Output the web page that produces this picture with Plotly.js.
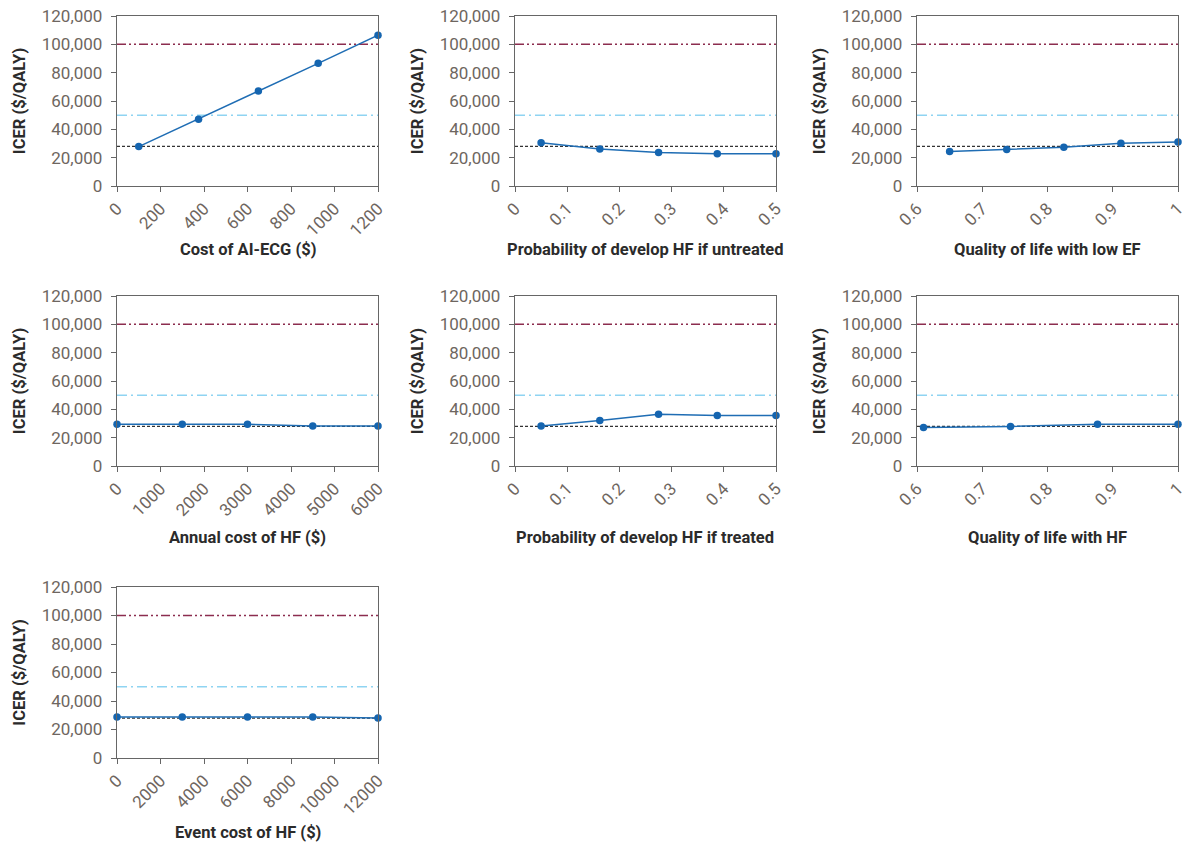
<!DOCTYPE html>
<html><head><meta charset="utf-8">
<script src="https://cdn.plot.ly/plotly-3.0.1.min.js"></script>
<style>body{margin:0;background:#fff}#c{width:1186px;height:847px}</style>
</head><body><div id="c"></div>
<script>
// Data
const costAIECG_x = [100, 375, 650, 925, 1200];
const costAIECG_y = [27800, 47200, 67100, 86600, 106400];
const probUntreated_x = [0.05, 0.1625, 0.275, 0.3875, 0.5];
const probUntreated_y = [30600, 26200, 23600, 22700, 22700];
const qolLowEF_x = [0.65, 0.7375, 0.825, 0.9125, 1.0];
const qolLowEF_y = [24300, 25700, 27300, 30100, 31100];
const annualCostHF_x = [0, 1500, 3000, 4500, 6000];
const annualCostHF_y = [29400, 29400, 29400, 28300, 28300];
const probTreated_x = [0.05, 0.1625, 0.275, 0.3875, 0.5];
const probTreated_y = [28300, 32100, 36500, 35600, 35600];
const qolHF_x = [0.61, 0.7433, 0.8767, 1.0];
const qolHF_y = [27200, 27900, 29500, 29500];
const eventCostHF_x = [0, 3000, 6000, 9000, 12000];
const eventCostHF_y = [28700, 28700, 28700, 28700, 28000];

const xTitles = ["Cost of AI-ECG ($)", "Probability of develop HF if untreated", "Quality of life with low EF",
  "Annual cost of HF ($)", "Probability of develop HF if treated", "Quality of life with HF", "Event cost of HF ($)"];
const yTitle = "ICER ($/QALY)";
const thresholdHigh = 100000;
const thresholdMid = 50000;
const baseCase = 28000;
const yTicks = [0, 20000, 40000, 60000, 80000, 100000, 120000];
const yTickText = ["0", "20,000", "40,000", "60,000", "80,000", "100,000", "120,000"];

const xTicksCost = [0, 200, 400, 600, 800, 1000, 1200];
const xTicksProb = [0, 0.1, 0.2, 0.3, 0.4, 0.5];
const xTicksProbText = ["0", "0.1", "0.2", "0.3", "0.4", "0.5"];
const xTicksQol = [0.6, 0.7, 0.8, 0.9, 1];
const xTicksQolText = ["0.6", "0.7", "0.8", "0.9", "1"];
const xTicksAnnual = [0, 1000, 2000, 3000, 4000, 5000, 6000];
const xTicksEvent = [0, 2000, 4000, 6000, 8000, 10000, 12000];

const series = [
  [costAIECG_x, costAIECG_y], [probUntreated_x, probUntreated_y], [qolLowEF_x, qolLowEF_y],
  [annualCostHF_x, annualCostHF_y], [probTreated_x, probTreated_y], [qolHF_x, qolHF_y],
  [eventCostHF_x, eventCostHF_y]
];
const xAxisCfg = [
  {range:[0,1200], tickvals: xTicksCost, ticktext: xTicksCost.map(String)},
  {range:[0,0.5], tickvals: xTicksProb, ticktext: xTicksProbText},
  {range:[0.6,1], tickvals: xTicksQol, ticktext: xTicksQolText},
  {range:[0,6000], tickvals: xTicksAnnual, ticktext: xTicksAnnual.map(String)},
  {range:[0,0.5], tickvals: xTicksProb, ticktext: xTicksProbText},
  {range:[0.6,1], tickvals: xTicksQol, ticktext: xTicksQolText},
  {range:[0,12000], tickvals: xTicksEvent, ticktext: xTicksEvent.map(String)}
];

const W = 1186, H = 847;
const colPx = [[117,378],[515,776],[917,1178]];
const rowPx = [[16,186],[296,466],[587,758]];
const xTitleYPx = [250, 537, 832];

const traces = [];
const layout = {
  width: W, height: H,
  margin: {l:0, r:0, t:0, b:0},
  paper_bgcolor: '#fff', plot_bgcolor: '#fff',
  showlegend: false,
  font: {family: 'Roboto, "Open Sans", sans-serif', color: '#333'},
  shapes: [], annotations: []
};

const tickFont = {size: 17, color: '#6e6660', family: 'Roboto, sans-serif'};
const titleFont = {size: 16.5, color: '#2b2b2b', family: 'Roboto, sans-serif'};

series.forEach((s, i) => {
  const r = Math.floor(i/3), c = i%3;
  const n = i+1;
  const xa = 'x' + (n===1?'':n), ya = 'y' + (n===1?'':n);
  const xk = 'xaxis' + (n===1?'':n), yk = 'yaxis' + (n===1?'':n);
  traces.push({
    x: s[0], y: s[1], xaxis: xa, yaxis: ya, type: 'scatter', mode: 'lines+markers',
    line: {color: '#1f6db4', width: 1.5},
    marker: {color: '#1565b0', size: 7.5},
    cliponaxis: false, hoverinfo: 'skip'
  });
  const xd = [colPx[c][0]/W, colPx[c][1]/W];
  const yd = [1 - rowPx[r][1]/H, 1 - rowPx[r][0]/H];
  layout[xk] = Object.assign({
    domain: xd, anchor: ya, tickmode: 'array', tickangle: -45,
    showgrid: false, zeroline: false, showline: true, mirror: true,
    linecolor: '#666', linewidth: 1.2, ticks: 'outside', ticklen: 5, tickcolor: '#666',
    tickfont: tickFont, ticklabeloverflow: 'allow',
    automargin: false
  }, xAxisCfg[i]);
  layout[yk] = {
    domain: yd, anchor: xa, range: [0, 120000], tickmode: 'array', tickvals: yTicks,
    ticktext: yTickText,
    showgrid: false, zeroline: false, showline: true, mirror: true,
    linecolor: '#666', linewidth: 1.2, ticks: 'outside', ticklen: 5, tickcolor: '#666',
    ticklabelstandoff: 5, ticklabeloverflow: 'allow',
    tickfont: tickFont,
    title: {text: '<b>' + yTitle + '</b>', font: titleFont, standoff: 12},
    automargin: false
  };
  layout.annotations.push({
    text: '<b>' + xTitles[i] + '</b>', xref: 'paper', yref: 'paper',
    x: (xd[0] + xd[1]) / 2, y: 1 - xTitleYPx[r] / H, xanchor: 'center', yanchor: 'middle',
    showarrow: false, font: titleFont
  });
  const xdRef = xa + ' domain';
  layout.shapes.push(
    {type:'line', xref:xdRef, yref:ya, x0:0, x1:1, y0:thresholdHigh, y1:thresholdHigh,
     line:{color:'#8c2d4f', width:1.5, dash:'9px,3px,2px,3px,2px,3px'}, layer:'below'},
    {type:'line', xref:xdRef, yref:ya, x0:0, x1:1, y0:thresholdMid, y1:thresholdMid,
     line:{color:'#8fd4f2', width:1.5, dash:'10px,4px,2px,4px'}, layer:'below'},
    {type:'line', xref:xdRef, yref:ya, x0:0, x1:1, y0:baseCase, y1:baseCase,
     line:{color:'#333', width:1.3, dash:'3px,2px'}, layer:'below'}
  );
});

Plotly.newPlot('c', traces, layout, {staticPlot: true});
</script>
</body></html>
